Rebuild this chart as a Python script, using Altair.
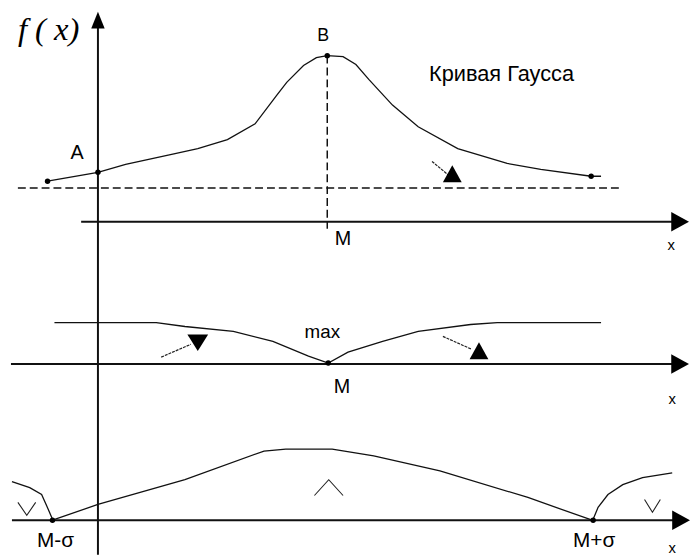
import altair as alt
import pandas as pd

# ---- curve data (diagram coordinates: x to the right, y downward) ----
gauss_x = [48, 99, 127, 177, 200, 230, 258, 280, 290, 307, 320, 331, 347, 360, 373, 397, 423, 463, 513, 547, 598, 608]
gauss_y = [180, 171, 163, 152, 147, 138, 122, 93, 80, 63, 55, 53, 54, 62, 77, 103, 125, 147, 162, 168, 175, 175]

deriv1_x = [55, 158, 187, 236, 276, 312, 332, 352, 387, 423, 476, 503, 608]
deriv1_y = [323, 323, 327, 332, 342, 357, 364, 353, 342, 332, 325, 323, 323]

deriv2_x = [53, 99, 187, 267, 289, 336, 378, 445, 534, 599]
deriv2_y = [523, 507, 482, 453, 451, 451, 458, 473, 500, 523]

left_tail_x = [12, 30, 42, 47, 53]
left_tail_y = [484, 490, 497, 508, 522]

right_tail_x = [600, 605, 615, 630, 650, 680]
right_tail_y = [522, 510, 497, 487, 480, 475]

# special points (A, B, ends, M, M-σ, M+σ)
dot_x = [48, 99, 331, 598, 332, 53, 600]
dot_y = [180, 171, 53, 175, 364, 523, 523]

# axes
axis_h_y = [221, 365, 523]
axis_h_x1 = [82, 11, 12]
axis_h_x2 = [684, 684, 684]
axis_v_x = 99
axis_v_y1, axis_v_y2 = 20, 558

# helper lines (dashed)
dash_x1 = [18, 331]
dash_y1 = [187, 53]
dash_x2 = [628, 331]
dash_y2 = [187, 228]

# short pointer lines
ptr_x1 = [437, 163, 448]
ptr_y1 = [160, 358, 337]
ptr_x2 = [455, 193, 477]
ptr_y2 = [175, 345, 350]

# labels
lab_text = ["A", "B", "Кривая Гаусса", "M", "x", "max", "M", "x", "M-σ", "M+σ", "x"]
lab_x = [78, 327, 434, 347, 679, 326, 346, 680, 56, 601, 680]
lab_y = [152, 33, 72, 239, 245, 333, 388, 400, 544, 544, 551]
lab_size = [20, 18, 22, 20, 15, 19, 20, 15, 21, 21, 15]
lab_align = ["center", "center", "left", "center", "center", "center", "center", "center", "center", "center", "center"]

# concavity signs (∨ / ∧): kind, centre, half-width, half-height
sign_kind = ["v", "^", "v"]
sign_cx = [27, 332.5, 660]
sign_cy = [511.5, 490, 508.5]
sign_hw = [9, 14.5, 8]
sign_hh = [6.5, 8, 6.5]

X = alt.Scale(domain=[8, 698], nice=False, zero=False)
Y = alt.Scale(domain=[8, 558], nice=False, zero=False, reverse=True)


def xe(f="x"):
    return alt.X(f + ":Q", scale=X, axis=None)


def ye(f="y"):
    return alt.Y(f + ":Q", scale=Y, axis=None)


rows = []
for name, xs, ys in [("gauss", gauss_x, gauss_y), ("d1", deriv1_x, deriv1_y),
                     ("d2", deriv2_x, deriv2_y), ("lt", left_tail_x, left_tail_y),
                     ("rt", right_tail_x, right_tail_y)]:
    for i, (a, b) in enumerate(zip(xs, ys)):
        rows.append({"g": name, "i": i, "x": a, "y": b})
curves_df = pd.DataFrame(rows)

curves = alt.Chart(curves_df).mark_line(color="#111", strokeWidth=1.3).encode(
    x=xe(), y=ye(), detail="g:N", order="i:Q")

srows = []
for k, (kind, cx, cy, hw, hh) in enumerate(zip(sign_kind, sign_cx, sign_cy, sign_hw, sign_hh)):
    s = 1 if kind == "v" else -1
    for i, (dx, dy) in enumerate([(-hw, -s * hh), (0, s * hh), (hw, -s * hh)]):
        srows.append({"g": k, "i": i, "x": cx + dx, "y": cy + dy})
signs = alt.Chart(pd.DataFrame(srows)).mark_line(color="#222", strokeWidth=1.1).encode(
    x=xe(), y=ye(), detail="g:N", order="i:Q")

axes_df = pd.DataFrame(
    {"x": axis_h_x1 + [axis_v_x], "x2": axis_h_x2 + [axis_v_x],
     "y": axis_h_y + [axis_v_y1], "y2": axis_h_y + [axis_v_y2]})
axes = alt.Chart(axes_df).mark_rule(color="#111", strokeWidth=2).encode(
    x=xe(), x2="x2:Q", y=ye(), y2="y2:Q")

dash_df = pd.DataFrame({"x": dash_x1, "x2": dash_x2, "y": dash_y1, "y2": dash_y2})
dashes = alt.Chart(dash_df).mark_rule(color="#111", strokeWidth=1.5, strokeDash=[8, 4]).encode(
    x=xe(), x2="x2:Q", y=ye(), y2="y2:Q")

ptr_df = pd.DataFrame({"x": ptr_x1, "x2": ptr_x2, "y": ptr_y1, "y2": ptr_y2})
ptrs = alt.Chart(ptr_df).mark_rule(color="#222", strokeWidth=1.2, strokeDash=[3, 1]).encode(
    x=xe(), x2="x2:Q", y=ye(), y2="y2:Q")

dots_df = pd.DataFrame({"x": dot_x, "y": dot_y})
dots = alt.Chart(dots_df).mark_point(filled=True, color="#000", size=30, opacity=1).encode(
    x=xe(), y=ye())

# arrow heads
heads = []
for hx, hy, shape, size in [
    ([688, 688, 689], axis_h_y, "M1,0L-1,-1.1L-1,1.1Z", 324),
    ([axis_v_x], [17], "M0,-1L0.8,1L-0.8,1Z", 289),
    ([457.5, 484.5], [172.5, 351.5], "M0,-0.9L1,0.9L-1,0.9Z", 361),
    ([200], [343.5], "M-1,-0.8L1,-0.8L0,0.8Z", 441),
]:
    heads.append(alt.Chart(pd.DataFrame({"x": hx, "y": hy})).mark_point(
        shape=shape, filled=True, color="#000", size=size, opacity=1).encode(x=xe(), y=ye()))

lab_df = pd.DataFrame({"t": lab_text, "x": lab_x, "y": lab_y, "s": lab_size, "a": lab_align})
labels_c = alt.Chart(lab_df[lab_df.a == "center"]).mark_text(
    font="Liberation Sans", color="#000", align="center", baseline="middle").encode(
    x=xe(), y=ye(), text="t:N", size=alt.Size("s:Q", scale=None))
labels_l = alt.Chart(lab_df[lab_df.a == "left"]).mark_text(
    font="Liberation Sans", color="#000", align="left", baseline="middle").encode(
    x=xe(), y=ye(), text="t:N", size=alt.Size("s:Q", scale=None))

fx_df = pd.DataFrame({"t": ["f ( x)"], "x": [18], "y": [27]})
fx = alt.Chart(fx_df).mark_text(
    font="Liberation Serif", fontStyle="italic", fontSize=33, color="#000",
    align="left", baseline="middle").encode(x=xe(), y=ye(), text="t:N")

chart = alt.layer(dashes, axes, curves, signs, ptrs, dots, *heads, labels_c, labels_l, fx).properties(
    width=690, height=550, padding=0, autosize="none", background="white"
).configure_view(strokeWidth=0)

chart.save("out.html", embed_options={"renderer": "svg", "actions": False})
